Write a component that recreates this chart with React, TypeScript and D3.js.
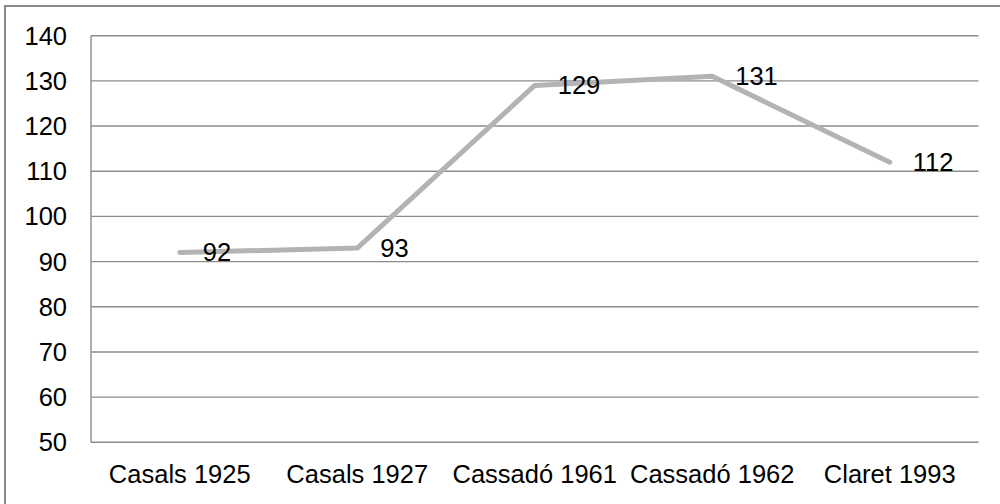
import React from "react";
import * as d3 from "d3";

const categories = ["Casals 1925", "Casals 1927", "Cassadó 1961", "Cassadó 1962", "Claret 1993"];
const values = [92, 93, 129, 131, 112];
const yTicks = [50, 60, 70, 80, 90, 100, 110, 120, 130, 140];

const W = 1000;
const H = 504;
const left = 91;
const right = 978.5;
const top = 35.7;
const bottom = 442.3;
const font = "'Liberation Sans', Arial, sans-serif";
const fs = 25.5;

export default function App() {
  const x = d3.scalePoint<string>().domain(categories).range([left, right]).padding(0.5);
  const y = d3.scaleLinear().domain([50, 140]).range([bottom, top]);
  const line = d3
    .line<number>()
    .x((_, i) => x(categories[i]) as number)
    .y((d) => y(d));

  return (
    <svg width={W} height={H} style={{ position: "absolute", left: 0, top: 0 }}>
      <rect x={0} y={0} width={W} height={H} fill="#fff" />
      <rect x={5} y={6} width={1000} height={520} fill="none" stroke="#888" strokeWidth={2} />
      {yTicks.map((t) => (
        <g key={t}>
          <line x1={left} x2={right} y1={y(t)} y2={y(t)} stroke="#8c8c8c" strokeWidth={1.4} />
          <text
            x={67}
            y={y(t)}
            dy="0.35em"
            textAnchor="end"
            fontFamily={font}
            fontSize={fs}
            fill="#000"
          >
            {t}
          </text>
        </g>
      ))}
      <line x1={left} x2={left} y1={top} y2={bottom} stroke="#8c8c8c" strokeWidth={1.4} />
      {categories.map((c) => (
        <text
          key={c}
          x={x(c)}
          y={483}
          textAnchor="middle"
          fontFamily={font}
          fontSize={fs}
          fill="#000"
        >
          {c}
        </text>
      ))}
      <path
        d={line(values) || ""}
        fill="none"
        stroke="#b3b3b3"
        strokeWidth={5}
        strokeLinecap="round"
        strokeLinejoin="round"
      />
      {values.map((v, i) => (
        <text
          key={i}
          x={(x(categories[i]) as number) + 23}
          y={y(v)}
          dy="0.35em"
          fontFamily={font}
          fontSize={fs}
          fill="#000"
        >
          {v}
        </text>
      ))}
    </svg>
  );
}
